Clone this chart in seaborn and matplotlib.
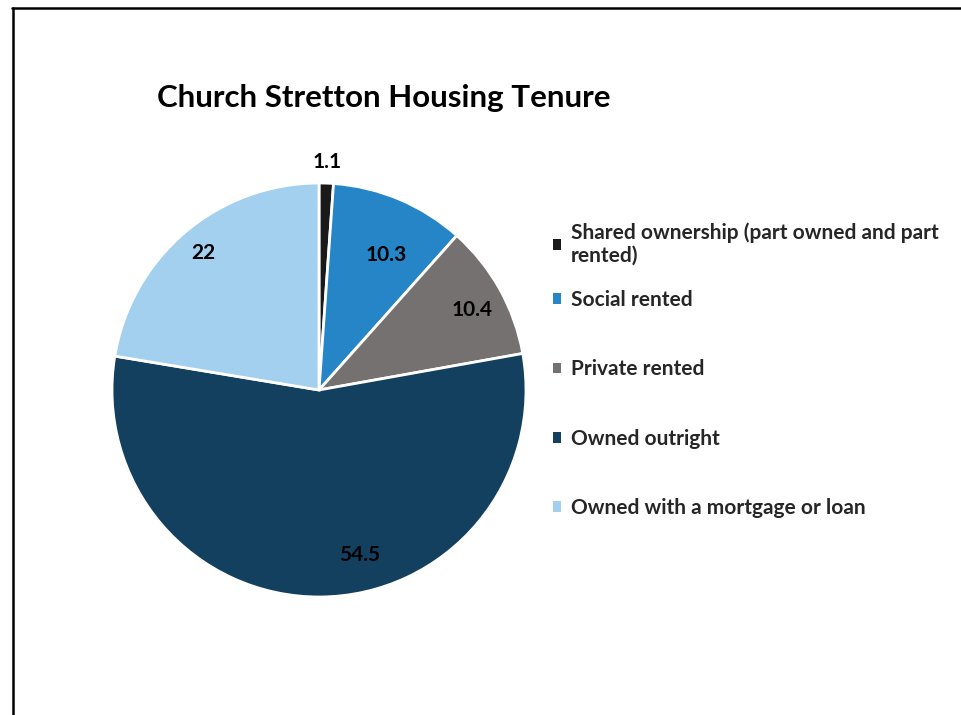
import numpy as np
import seaborn as sns
import matplotlib.pyplot as plt
from matplotlib.lines import Line2D

# data
categories = ['Shared ownership (part owned and part\nrented)', 'Social rented',
              'Private rented', 'Owned outright', 'Owned with a mortgage or loan']
values = [1.1, 10.3, 10.4, 54.5, 22]
colors = ['#1a1a1a', '#2585c7', '#767171', '#13405f', '#a4d0ef']
value_labels = ['1.1', '10.3', '10.4', '54.5', '22']

# label placement (radius as share of pie radius, angle nudge in degrees)
label_r = [1.10, 0.73, 0.835, 0.82, 0.865]
label_shift = [0, -3.5, -1.6, 13.6, 0]

sns.set_theme(style='white')
plt.rcParams['font.family'] = ['Lato', 'DejaVu Sans']

fig = plt.figure(figsize=(9.61, 7.15), dpi=100)
ax = fig.add_axes([60.25/961, 66.25/715, 517.5/961, 517.5/715])

wedges, _ = ax.pie(values, colors=colors, startangle=90, counterclock=False,
                   wedgeprops=dict(edgecolor='white', linewidth=2))
ax.set_xlim(-1.25, 1.25)
ax.set_ylim(-1.25, 1.25)
ax.set_aspect('equal')

for w, lab, r, sh in zip(wedges, value_labels, label_r, label_shift):
    ang = np.deg2rad((w.theta1 + w.theta2) / 2 + sh)
    ax.text(r*np.cos(ang), r*np.sin(ang), lab, ha='center', va='center',
            fontsize=15, fontweight='bold', color='black')

fig.text(157/961, 1 - 98/715, 'Church Stretton Housing Tenure', ha='left', va='center',
         fontsize=22.5, fontweight='bold', color='black')

# legend: first (two-line) entry on its own, the rest evenly spaced
leg_kw = dict(frameon=False, fontsize=15, handlelength=0.4, handleheight=0.4,
              handletextpad=0.45, borderpad=0, borderaxespad=0, loc='upper left')
leg1 = fig.legend(wedges[:1], categories[:1], bbox_to_anchor=(553/961, 1 - 222/715), **leg_kw)
leg2 = fig.legend(wedges[1:], categories[1:], bbox_to_anchor=(553/961, 1 - 290/715),
                  labelspacing=2.37, **leg_kw)
for leg in (leg1, leg2):
    for t in leg.get_texts():
        t.set_fontweight('bold')
    for h in leg.legend_handles:
        h.set_edgecolor('none')
        h.set_linewidth(0)

# outer frame (top and left edges visible)
fig.add_artist(Line2D([12/961, 1], [1 - 8/715, 1 - 8/715], color='black', lw=1.8))
fig.add_artist(Line2D([13/961, 13/961], [0, 1 - 8/715], color='black', lw=1.8))

fig.savefig('out.png', dpi=100)
